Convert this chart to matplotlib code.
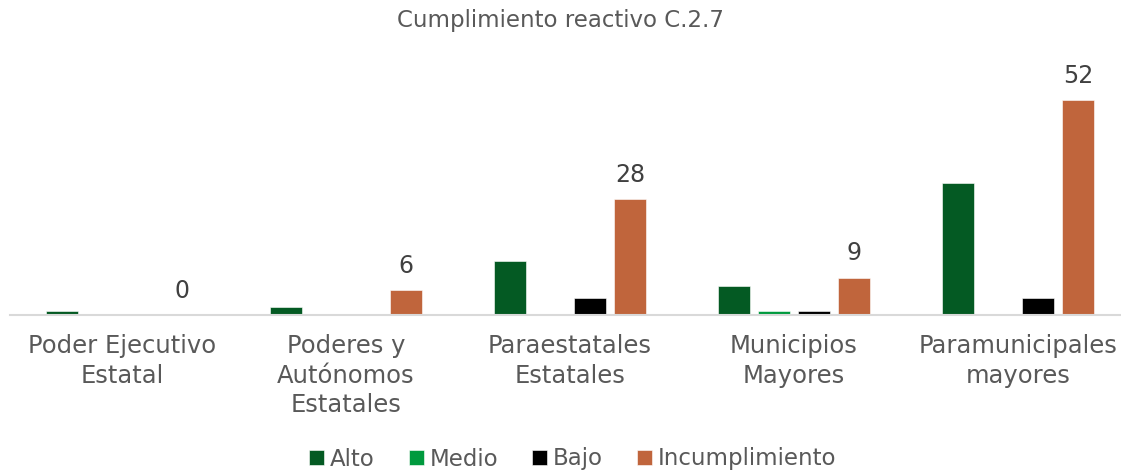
import numpy as np
import matplotlib
matplotlib.use("Agg")
import matplotlib.pyplot as plt

# categorias y series
categorias = ["Poder Ejecutivo\nEstatal", "Poderes y\nAutónomos\nEstatales",
              "Paraestatales\nEstatales", "Municipios\nMayores",
              "Paramunicipales\nmayores"]
alto = [1, 2, 13, 7, 32]
medio = [0, 0, 0, 1, 0]
bajo = [0, 0, 4, 1, 4]
incumplimiento = [0, 6, 28, 9, 52]

series = ["Alto", "Medio", "Bajo", "Incumplimiento"]
colores = ["#045A23", "#009A3E", "#000000", "#C0653C"]

plt.rcParams['font.family'] = ['DejaVu Sans']
gris = "#595959"

fig = plt.figure(figsize=(11.21, 4.72), dpi=100)
ax = fig.add_axes([10/1121, 157/472, 1120/1121, 255/472])

x = np.arange(len(categorias))
ancho = 0.143
paso = 0.179
datos = [alto, medio, bajo, incumplimiento]
barras = []
for i, (vals, col, nombre) in enumerate(zip(datos, colores, series)):
    b = ax.bar(x + (i - 1.5) * paso, vals, ancho, color=col, label=nombre,
               edgecolor="white", linewidth=0.4)
    barras.append(b)

# etiquetas solo para incumplimiento
ax.bar_label(barras[3], labels=[str(v) for v in incumplimiento], padding=9,
             fontsize=17, color="#404040")

ax.set_xlim(-0.5, 4.5)
ax.set_ylim(0, 61.8)
ax.set_xticks(x)
ax.set_xticklabels(categorias, fontsize=17.5, color=gris, linespacing=1.27)
ax.tick_params(axis="x", length=0, pad=14)
ax.set_yticks([])
for s in ["top", "right", "left"]:
    ax.spines[s].set_visible(False)
ax.spines["bottom"].set_color("#D9D9D9")
ax.spines["bottom"].set_linewidth(1.5)

fig.text(0.5, 1 - 20/472, "Cumplimiento reactivo C.2.7", ha="center", va="center",
         fontsize=16.5, color=gris)

fig.legend(loc="center", bbox_to_anchor=(0.511, 1 - 459/472), ncol=4, frameon=False,
           fontsize=16.5, labelcolor=gris, handlelength=0.65, handleheight=0.65,
           handletextpad=0.25, columnspacing=1.5)

fig.savefig("out.png", dpi=100)
